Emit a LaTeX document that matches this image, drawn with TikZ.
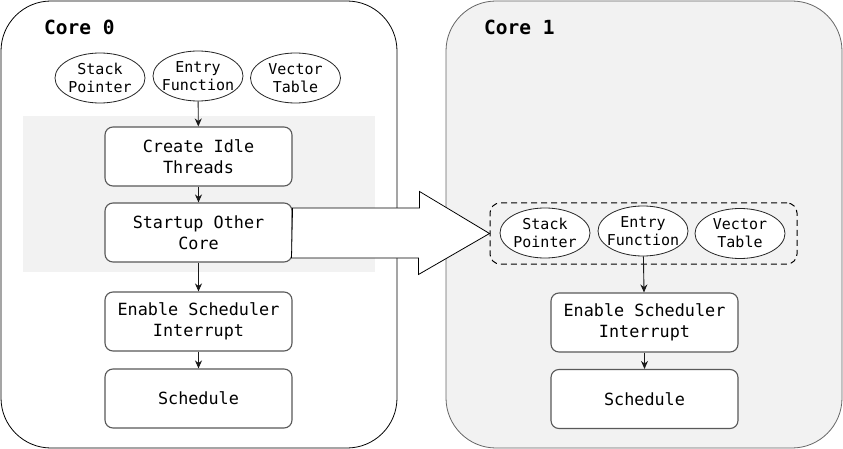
\documentclass[tikz,border=0pt]{standalone}
\usepackage{fontspec}
\setmainfont{DejaVu Sans Mono}
\usetikzlibrary{shapes.geometric,arrows.meta}
\tikzstyle{corebox}=[draw,rounded corners=50pt,line width=0.8pt]
\tikzstyle{stepbox}=[draw=black!65,line width=1.1pt,fill=white,rounded corners=8pt,minimum width=187pt,minimum height=59pt,align=center,font=\fontsize{16.8}{21}\selectfont]
\tikzstyle{regoval}=[ellipse,draw=black!85,line width=0.8pt,fill=white,inner sep=-4.5pt,minimum width=90pt,minimum height=50pt,align=center,font=\fontsize{15}{18}\selectfont]

\begin{document}
\begin{tikzpicture}[x=1pt,y=-1pt,>={Stealth[length=8pt,width=7pt]},line join=miter]
    \tikzstyle{title}=[anchor=base west,inner sep=0pt,font=\fontsize{19.5}{20}\selectfont\bfseries]
    \tikzstyle{flow}=[->,line width=0.9pt,black!90]
    \useasboundingbox (0,0) rectangle (843,449);
    % the two cores
    \draw[corebox,fill=white] (1,1) rectangle (397,448);
    \draw[corebox,draw=black!60,fill=black!5] (446,1) rectangle (842,448);
    \node[title] (T0) at (44,35) {Core 0};
    \node[title] (T1) at (484,35) {Core 1};
    \fill[black!5] (23,116) rectangle (375,272);
    % core 0
    \node[regoval] (SP0) at (100,78)   {Stack\\Pointer};
    \node[regoval] (EF0) at (198,76)   {Entry\\Function};
    \node[regoval] (VT0) at (295.5,78) {Vector\\Table};
    \node[stepbox] (IDLE) at (198.5,156.5) {Create Idle\\Threads};
    \node[stepbox] (BOOT) at (198.5,232.5) {Startup Other\\Core};
    \node[stepbox] (IRQ0) at (198.5,321.5) {Enable Scheduler\\Interrupt};
    \node[stepbox] (SCH0) at (198.5,398.5) {Schedule};
    \draw[flow] (EF0) -- (IDLE);
    \draw[flow] (IDLE) -- (BOOT);
    \draw[flow] (BOOT) -- (IRQ0);
    \draw[flow] (IRQ0) -- (SCH0);
    % core 1
    \node[draw=black,line width=1pt,dash pattern=on 6pt off 4pt,rounded corners=10pt,minimum width=307pt,minimum height=61pt] (GRP) at (643.5,233.5) {};
    \node[regoval] (SP1) at (545,233)   {Stack\\Pointer};
    \node[regoval] (EF1) at (643,231)   {Entry\\Function};
    \node[regoval] (VT1) at (740,233.5) {Vector\\Table};
    \node[stepbox] (IRQ1) at (644.5,322.5) {Enable Scheduler\\Interrupt};
    \node[stepbox] (SCH1) at (644.5,399) {Schedule};
    \draw[flow] (EF1) -- (IRQ1);
    \draw[flow] (IRQ1) -- (SCH1);
    % hand over to core 1
    \draw[line width=0.8pt,fill=white] (BOOT.east) ++(0,-24.5) -- ++(127,0) -- ++(0,-16.5)
        -- (GRP.west) -- ++(-71,41) -- ++(0,-16.5) -- ++(-127,0) -- cycle;
\end{tikzpicture}
\end{document}
